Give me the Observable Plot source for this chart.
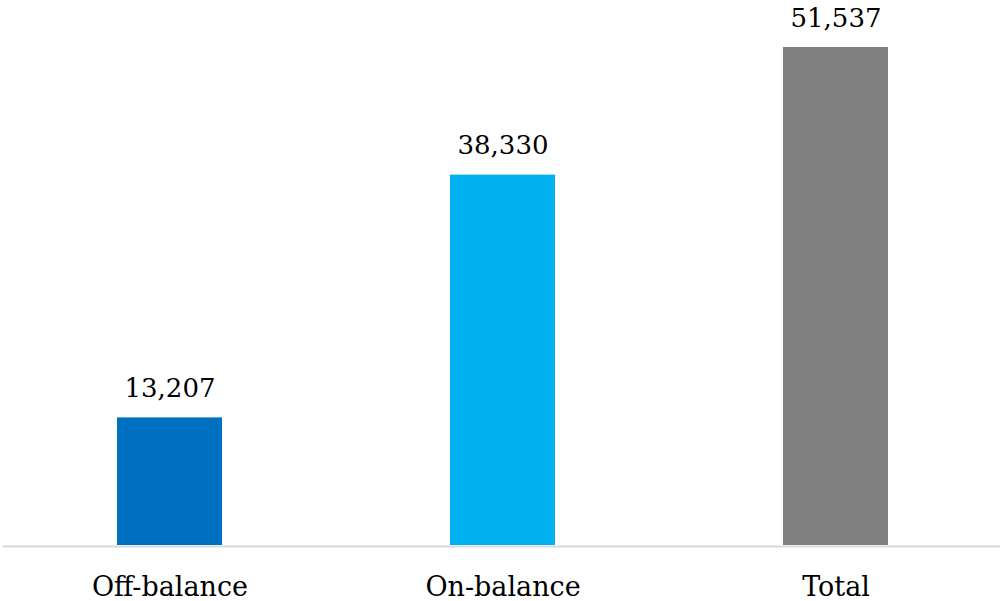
<!DOCTYPE html>
<html>
<head>
<meta charset="utf-8">
<script src="https://cdn.jsdelivr.net/npm/d3@7"></script>
<script src="https://cdn.jsdelivr.net/npm/@observablehq/plot@0.6"></script>
<style>
  html, body { margin: 0; padding: 0; background: #fff; }
  #chart svg { display: block; }
</style>
</head>
<body>
<div id="chart"></div>
<script>
const categories = ["Off-balance", "On-balance", "Total"];
const values = [13207, 38330, 51537];
const colors = ["#0070C0", "#00B0F0", "#808080"];

const data = categories.map((c, i) => ({category: c, value: values[i], color: colors[i]}));
const fmt = d3.format(",");
const font = "DejaVu Serif";

const chart = Plot.plot({
  width: 1000,
  height: 601,
  marginTop: 47,
  marginBottom: 56,
  marginLeft: 3,
  marginRight: 0,
  style: {fontFamily: font, background: "#fff"},
  x: {domain: categories, range: [3, 1002], paddingInner: 0.685, paddingOuter: 0.3425, axis: null},
  y: {domain: [0, 51537], axis: null},
  marks: [
    Plot.barY(data, {x: "category", y: "value", fill: "color"}),
    Plot.ruleY([0], {stroke: "#d9d9d9", strokeWidth: 2, dy: 1}),
    Plot.text(data, {x: "category", y: "value", text: d => fmt(d.value), dy: -29, fontSize: 26, fill: "#000", fontFamily: font}),
    Plot.text(data, {x: "category", y: 0, text: "category", dy: 42, fontSize: 27, fill: "#000", fontFamily: font})
  ]
});
document.getElementById("chart").appendChild(chart);
</script>
</body>
</html>
